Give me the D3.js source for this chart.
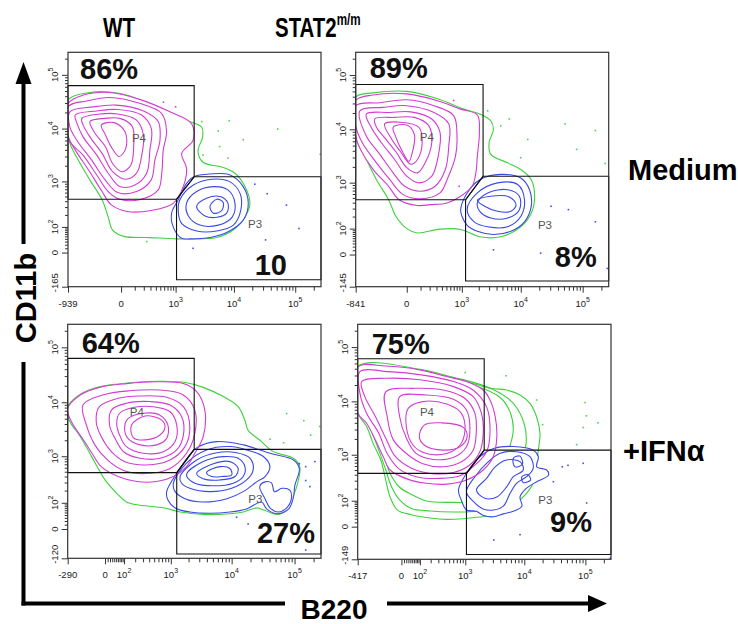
<!DOCTYPE html>
<html>
<head>
<meta charset="utf-8">
<title>CD11b / B220</title>
<script src="https://cdn.jsdelivr.net/npm/d3@7/dist/d3.min.js"></script>
<style>
  body { margin: 0; background: #fff; }
  text { font-family: "Liberation Sans", Arial, Helvetica, sans-serif; }
</style>
</head>
<body>
<div id="chart"></div>
<script>
// ---- labels ----
var columnTitles = ["WT", "STAT2"];
var columnSup = ["", "m/m"];
var rowTitles = ["Medium", "+IFN\u03b1"];
var yTitle = "CD11b";
var xTitle = "B220";

// ---- axes (biexponential display, top = 2^18) ----
var axisMax = 262144;
var xMins = [-939, -841, -290, -417];
var yMins = [-165, -145, -120, -149];
var xLabelTicks = [
  [-939, 0, 1e3, 1e4, 1e5],
  [-841, 0, 1e3, 1e4, 1e5],
  [-290, 0, 1e2, 1e3, 1e4, 1e5],
  [-417, 0, 1e2, 1e3, 1e4, 1e5]
];
var yLabelTicks = [
  [-165, 0, 1e2, 1e3, 1e4, 1e5],
  [-145, 0, 1e2, 1e3, 1e4, 1e5],
  [-120, 0, 1e2, 1e3, 1e4, 1e5],
  [-149, 0, 1e2, 1e3, 1e4, 1e5]
];

// ---- gate frequencies ----
var p4Percent = ["86%", "89%", "64%", "75%"];
var p3Percent = ["10", "8%", "27%", "9%"];

// ---- gates [B220, CD11b] ----
var p4Gates = [
  [[-939, 63000], [2150, 63000], [2150, 1230], [1040, 440], [-939, 440]],
  [[-841, 67000], [2370, 67000], [2370, 1330], [1170, 460], [-841, 460]],
  [[-290, 63000], [2480, 63000], [2480, 1350], [1265, 480], [-290, 480]],
  [[-417, 61000], [2140, 61000], [2140, 1225], [1050, 426], [-417, 426]]
];
var p3Gates = [
  [[1040, 440], [2150, 1230], [262144, 1230], [262144, -110], [1040, -110]],
  [[1170, 460], [2370, 1330], [262144, 1330], [262144, -103], [1170, -103]],
  [[1265, 480], [2480, 1350], [262144, 1350], [262144, -92], [1265, -92]],
  [[1050, 426], [2140, 1225], [262144, 1225], [262144, -112], [1050, -112]]
];
var p4LabelAt = [[75, 5600], [93, 6100], [146, 5600], [100, 5360]];
var p3LabelAt = [[17000, 95], [19000, 100], [18400, 100], [17000, 82]];

// ---- contour rings, outermost first [B220, CD11b] ----
// WT, medium
var tlMagenta = [
  [[-939,29000],[-460,42000],[-80,47000],[150,35000],[780,20500],[1950,12200],[2050,6000],[1290,3400],[1580,1780],[1380,790],[900,360],[290,250],[41,240],[-68,340],[-155,630],[-355,1660],[-680,3950],[-939,7400]],
  [[-939,25400],[-390,32700],[-80,38000],[150,29500],[530,19200],[670,8750],[575,3950],[535,1440],[450,680],[150,430],[-7,440],[-93,630],[-222,1330],[-470,3180],[-880,6000]],
  [[-870,20500],[-270,25400],[-32,27300],[196,21300],[450,13500],[490,6000],[380,2560],[310,1060],[117,630],[-20,600],[-120,1060],[-300,2560],[-630,6000],[-870,10900]],
  [[-680,17900],[-220,21300],[-20,22700],[172,17900],[315,10000],[290,3950],[240,1440],[102,850],[-7,790],[-93,1440],[-222,3180],[-470,7000],[-630,12600]],
  [[-500,15500],[-176,18700],[-20,18700],[117,14400],[196,7500],[172,3000],[117,1440],[29,1100],[-56,1540],[-155,3430],[-330,7000],[-470,11600]],
  [[-330,13500],[-120,15500],[-7,15500],[78,10900],[90,4600],[66,2050],[5,1540],[-56,2210],[-120,4600],[-245,8100]],
  [[-163,11600],[-44,12900],[24,8750],[29,4250],[-12,3000],[-68,4600],[-120,7700]]
];
var tlBlue = [
  [[840,220],[1120,430],[1580,915],[2110,1230],[4000,1390],[8500,1340],[14200,790],[17200,364],[14200,150],[8500,76],[4000,45],[1810,40],[1290,42],[900,100]],
  [[1120,240],[1200,430],[2080,850],[4270,1100],[8500,990],[12600,580],[13000,260],[9800,112],[5200,76],[2370,76],[1290,124]],
  [[1580,364],[2370,630],[4560,790],[7960,680],[10400,364],[9300,176],[5530,112],[2700,112],[1700,190]],
  [[2370,310],[3500,460],[5900,500],[7960,364],[7600,220],[5200,176],[3300,190]],
  [[4000,310],[5200,440],[6650,375],[6260,250],[4560,220]]
];
var tlGreen = [
  [[-939,34000],[-330,47000],[-80,48000],[66,40000],[350,26000],[900,18700],[1800,13500],[2900,10600],[3000,7000],[2500,3700],[3100,2300],[6300,1900],[10400,1440],[15200,790],[18300,360],[15200,180],[9700,81],[5200,45],[2400,40],[1040,40],[290,45],[17,50],[-56,81],[-93,180],[-155,430],[-330,1060],[-540,2200],[-870,5400],[-939,9400]]
];
var tlDots = [
  [2900,13500,"g"],[5500,9000,"g"],[8400,14000,"g"],[14200,6200,"g"],[52000,9800,"g"],[5800,4600,"g"],[8000,2800,"g"],[3050,3200,"g"],[240,30,"g"],[255000,3300,"g"],
  [22000,880,"b"],[35000,570,"b"],[72000,330,"b"],[115000,90,"b"],[33000,36,"b"],[2050,10,"b"],
  [580,31000,"m"],[1000,25400,"m"]
];

// STAT2 m/m, medium
var trMagenta = [
  [[-841,34000],[-370,43000],[0,45000],[305,34000],[950,23600],[1890,18400],[2050,8750],[1890,3180],[1780,1540],[1530,850],[950,540],[515,395],[206,364],[73,350],[-49,460],[-143,850],[-368,1780],[-680,4250],[-841,7500]],
  [[-841,27300],[-255,31000],[0,35000],[260,27300],[700,17900],[810,7500],[760,3180],[515,1140],[363,630],[98,480],[-24,590],[-130,1140],[-310,2380],[-630,5700],[-841,11600]],
  [[-700,21900],[-210,25400],[0,27300],[260,20500],[560,12600],[560,5000],[475,1780],[277,850],[98,680],[-12,850],[-98,1540],[-255,3430],[-520,7500]],
  [[-520,19200],[-130,20500],[24,21000],[228,15500],[363,8750],[330,3180],[228,1330],[85,990],[0,1330],[-85,2750],[-235,5700],[-410,10900]],
  [[-340,15500],[-85,16600],[49,16600],[189,11600],[228,5700],[146,2380],[73,1540],[0,1930],[-73,3800],[-190,7000],[-310,10900]],
  [[-190,12600],[-37,13500],[85,10900],[115,5700],[73,2750],[24,2240],[-37,3800],[-110,6500]],
  [[-98,10900],[0,12000],[49,8000],[37,4000],[12,2550],[-29,4000],[-78,7500]]
];
var trBlue = [
  [[950,285],[1250,630],[2080,1140],[4700,1440],[10000,1230],[13900,730],[14800,336],[11500,150],[6900,84],[3550,67],[1890,84],[1250,122],[1010,200]],
  [[1250,285],[1890,630],[4160,990],[8900,920],[11500,460],[10000,200],[6100,112],[2840,112],[1660,150]],
  [[1890,395],[2840,630],[6100,730],[9500,540],[9500,285],[6100,185],[3200,185],[2080,262]],
  [[1890,450],[3200,540],[6500,525],[8400,364],[6900,262],[4160,262],[2520,336]]
];
var trGreen = [
  [[-841,39000],[-370,47000],[0,50000],[305,37000],[1090,23600],[2080,19200],[3200,14400],[3550,10000],[3000,5700],[3200,3430],[6100,2380],[10000,1780],[14800,1140],[16800,540],[14800,238],[10000,112],[4700,56],[2080,56],[950,95],[360,97],[73,75],[0,100],[-73,200],[-143,460],[-310,1140],[-520,2750],[-780,5700],[-841,7400]]
];
var trDots = [
  [2840,21900,"g"],[4700,11600,"g"],[6500,15500,"g"],[13000,6500,"g"],[52000,12600,"g"],[80000,4250,"g"],[160000,9500,"g"],[230000,2330,"g"],[10000,2970,"g"],
  [31000,336,"b"],[59000,285,"b"],[160000,150,"b"],[3550,11,"b"],[21000,3,"b"],[250000,-40,"b"],
  [700,34000,"m"],[890,850,"m"]
];

// WT, +IFN-alpha
var blMagenta = [
  [[-290,7700],[-146,13600],[-23,18700],[118,21900],[555,23600],[1640,21900],[2720,15600],[3700,7200],[3480,2340],[2540,1140],[1850,630],[1110,400],[555,315],[218,315],[61,400],[-15,630],[-61,1140],[-118,2000],[-240,4400]],
  [[-124,8900],[-8,13600],[146,16200],[640,16700],[1640,13600],[2540,7200],[2540,2680],[1850,1140],[970,580],[350,460],[96,530],[9,850],[-45,1640],[-97,3800]],
  [[-23,8300],[61,11800],[258,13000],[845,12300],[1640,8300],[2100,3530],[1740,1520],[970,850],[350,680],[103,790],[26,1220],[-15,2340],[-38,4400]],
  [[26,7200],[118,9600],[410,10300],[970,8900],[1540,5400],[1640,2500],[1265,1320],[640,915],[258,915],[96,1220],[44,2170],[18,3800]],
  [[70,6300],[180,8000],[480,8300],[970,6700],[1265,3800],[1185,1890],[740,1220],[304,1140],[118,1520],[70,2500],[53,4100]],
  [[131,5000],[304,6300],[640,5800],[890,3800],[845,2170],[555,1640],[258,1640],[131,2170],[104,3320]],
  [[162,3800],[330,5600],[690,4700],[790,3460],[640,2500],[330,2030],[180,2250]]
];
var blBlue = [
  [[845,189],[1265,463],[2720,1440],[5740,1890],[15300,1640],[40700,1140],[96000,850],[119000,580],[101000,260],[96000,141],[81000,66],[52000,45],[36000,66],[30000,105],[17300,66],[9400,52],[4470,47],[2100,52],[1185,71],[890,118]],
  [[1110,290],[1850,740],[3950,1320],[9400,1530],[17300,1320],[32000,990],[40700,630],[34000,400],[25000,310],[15300,189],[8400,128],[3480,105],[1740,128],[1185,189]],
  [[1440,400],[2720,850],[5740,1170],[12000,1170],[19700,915],[22000,540],[17300,340],[10000,225],[4470,189],[2100,225],[1530,290]],
  [[1850,430],[3480,790],[7350,985],[12700,915],[16300,630],[15300,400],[10600,290],[5000,255],[2550,290]],
  [[2720,463],[5070,720],[9400,790],[12700,580],[11300,400],[6500,340],[3480,360]],
  [[3950,480],[6500,630],[9400,580],[10000,430],[6900,400],[4800,400]],
  [[28000,245],[34000,310],[43000,295],[48000,189],[63000,225],[84000,205],[89000,128],[75000,71],[55000,52],[40700,71],[34000,128]]
];
var blGreen = [
  [[-290,8300],[-146,14100],[-23,19200],[146,22700],[740,24100],[1850,22700],[3480,18700],[7350,12700],[12700,8300],[16200,4730],[18300,3050],[28000,2020],[46000,1225],[96000,915],[121000,630],[108000,245],[89000,118],[75000,59],[52000,42],[34000,59],[25000,71],[15300,52],[9400,45],[3480,42],[1450,52],[740,72],[258,85],[118,105],[53,173],[0,340],[-38,680],[-86,1320],[-146,2340],[-270,4730]]
];
var blDots = [
  [75000,6200,"g"],[140000,4600,"g"],[180000,2500,"g"],[250000,3600,"g"],[40700,2100,"g"],[67000,1800,"g"],
  [119000,720,"b"],[150000,630,"b"],[210000,790,"b"],[150000,330,"b"],[175000,245,"b"],[150000,-70,"b"],[18300,12,"b"],[12000,32,"b"]
];

// STAT2 m/m, +IFN-alpha
var brMagenta = [
  [[-417,42400],[-80,44700],[100,38000],[447,28700],[1050,23200],[2060,16200],[2690,10600],[3280,5250],[3500,2210],[3040,915],[2060,500],[1050,310],[447,253],[154,263],[29,320],[-53,500],[-98,915],[-166,1900],[-270,3930],[-410,6000]],
  [[-375,35300],[-62,35300],[124,30500],[605,23200],[1370,16200],[2350,7900],[2690,2970],[2350,1140],[1370,580],[800,380],[325,336],[82,360],[-7,515],[-71,1060],[-134,2560],[-270,6000],[-375,14000]],
  [[-346,23200],[-80,26600],[100,25000],[605,18700],[1380,12200],[1920,6000],[2060,2560],[1800,1140],[1200,630],[605,445],[195,426],[46,540],[-25,915],[-80,2060],[-166,5250],[-295,12200]],
  [[-80,15000],[64,17400],[380,16200],[990,11300],[1480,6000],[1560,2560],[1380,1225],[850,730],[380,580],[124,670],[29,990],[-35,1900],[-71,5250]],
  [[-7,12200],[154,13100],[605,10900],[1050,6900],[1210,2970],[1050,1420],[650,915],[230,810],[73,1060],[20,2080],[-7,5250]],
  [[29,7400],[124,9900],[447,8900],[850,6000],[990,2970],[800,1520],[447,1060],[154,1060],[55,1520],[20,3410]],
  [[96,2210],[138,3660],[350,4000],[920,3300],[1080,2210],[800,1420],[380,1225],[138,1520]]
];
var brBlue = [
  [[750,186],[1050,426],[1800,915],[3080,1320],[6580,1440],[14000,1225],[17000,915],[16000,580],[23300,500],[25000,393],[16000,285],[10900,205],[8500,126],[9100,69],[6580,46],[4500,36],[3080,26],[2040,31],[1570,46],[1050,51],[850,103]],
  [[1050,168],[1480,364],[2350,680],[3980,1070],[7450,1140],[12400,915],[14000,540],[10900,364],[7450,263],[5800,153],[4500,69],[3080,51],[2040,56],[1400,94]],
  [[1570,186],[2350,336],[3280,580],[5100,790],[8500,735],[9600,500],[6580,364],[5100,220],[3500,126],[2200,116]],
  [[6580,850],[8500,940],[9300,650],[7000,580]],
  [[9100,364],[11500,400],[12700,310],[9600,275]]
];
var brGreen = [
  [[-417,43600],[100,39000],[1050,23200],[2690,17400],[5120,16200],[8500,13100],[12400,9200],[15900,5200],[18100,2560],[17000,1225],[15600,580],[14000,263],[9600,126],[5100,51],[2800,31],[910,20],[447,18],[195,22],[46,33],[-16,51],[-53,126],[-80,305],[-117,790],[-190,1650],[-270,3410],[-410,6000]],
  [[-270,28700],[100,34000],[910,25200],[3160,16200],[6580,9200],[9900,3930],[10700,1650],[8500,680],[5800,189],[3500,69],[1570,46],[605,43],[195,47],[46,58],[-7,105],[-44,215],[-80,500],[-134,1225],[-215,2970],[-375,7900]],
  [[-80,24200],[275,26600],[1570,19000],[3980,11800],[5800,6400],[6580,2960],[5500,1225],[4100,580],[3140,189],[1800,96],[605,90],[154,98],[46,145],[-7,215],[-53,426],[-89,915],[-134,2210],[-185,5250]]
];
var brDots = [
  [1000,34000,"g"],[5000,29600,"g"],[16000,10600,"g"],[99000,9500,"g"],[104000,5400,"g"],[160000,4000,"g"],[72000,1560,"g"],[92000,3270,"g"],[20000,3700,"g"],
  [42000,580,"b"],[52000,620,"b"],[92000,680,"b"],[30000,285,"b"],[8500,-20,"b"],[3100,-38,"b"],[105000,86,"b"],[255000,-140,"b"]
];

var panels = [
  { magenta: tlMagenta, blue: tlBlue, green: tlGreen, dots: tlDots },
  { magenta: trMagenta, blue: trBlue, green: trGreen, dots: trDots },
  { magenta: blMagenta, blue: blBlue, green: blGreen, dots: blDots },
  { magenta: brMagenta, blue: brBlue, green: brGreen, dots: brDots }
];

// ---- layout ----
var layout = [
  { left: 68,    top: 52.3,  w: 253,   h: 234.4, cx: 150, cy: 50, lowX: false, p4: [12, 27],   p3: [34, 12] },
  { left: 355.7, top: 52.3,  w: 253,   h: 234.4, cx: 150, cy: 50, lowX: false, p4: [14, 26],   p3: [12, 20] },
  { left: 67.7,  top: 324.3, w: 253.3, h: 234,   cx: 100, cy: 50, lowX: true,  p4: [14, 29],   p3: [6, 15] },
  { left: 357.7, top: 324.3, w: 253.3, h: 235,   cx: 100, cy: 50, lowX: true,  p4: [14, 30],   p3: [19, 27] }
];
var colors = { magenta: "#d23cd2", blue: "#3a4ae6", green: "#3dd23d" };
var dotColors = { g: "#44dd44", b: "#4050ee", m: "#cc44cc" };

var svg = d3.select("#chart").append("svg")
  .attr("width", 738)
  .attr("height", 624);

function tickText(sel, v) {
  if (v <= 0) { sel.text(String(v)); return; }
  sel.text("10");
  sel.append("tspan").attr("dy", -5).attr("font-size", "7px").text(Math.round(Math.log10(v)));
}

var drawPanel = function (i) {
  var L = layout[i];
  var data = panels[i];
  var x = d3.scaleSymlog().constant(L.cx).domain([xMins[i], axisMax]).range([L.left, L.left + L.w]);
  var y = d3.scaleSymlog().constant(L.cy).domain([yMins[i], axisMax]).range([L.top + L.h, L.top]);

  var g = svg.append("g");
  g.append("clipPath").attr("id", "clip" + i)
    .append("rect")
    .attr("x", L.left).attr("y", L.top).attr("width", L.w).attr("height", L.h);

  var plot = g.append("g").attr("clip-path", "url(#clip" + i + ")");
  var ring = d3.line()
    .x(function (d) { return x(d[0]); })
    .y(function (d) { return y(d[1]); })
    .curve(d3.curveCatmullRomClosed.alpha(0.5));

  plot.selectAll(".green").data(data.green).enter().append("path")
    .attr("d", ring).attr("fill", "none").attr("stroke", colors.green).attr("stroke-width", 1.1);

  // the green (total) contours are hidden where the gated populations sit
  plot.append("path").datum(data.magenta[0]).attr("d", ring).attr("fill", "#fff");
  plot.append("path").datum(data.blue[0]).attr("d", ring).attr("fill", "#fff");

  plot.selectAll(".blue").data(data.blue).enter().append("path")
    .attr("d", ring).attr("fill", "none").attr("stroke", colors.blue).attr("stroke-width", 1.1);
  plot.selectAll(".magenta").data(data.magenta).enter().append("path")
    .attr("d", ring).attr("fill", "none").attr("stroke", colors.magenta).attr("stroke-width", 1.1);

  plot.selectAll(".dot").data(data.dots).enter().append("rect")
    .attr("x", function (d) { return x(d[0]) - 0.8; })
    .attr("y", function (d) { return y(d[1]) - 0.8; })
    .attr("width", 1.6).attr("height", 1.6)
    .attr("fill", function (d) { return dotColors[d[2]]; });

  // gates
  var gate = d3.line()
    .x(function (d) { return x(d[0]); })
    .y(function (d) { return y(d[1]); })
    .curve(d3.curveLinearClosed);
  g.selectAll(".gate").data([p4Gates[i], p3Gates[i]]).enter().append("path")
    .attr("d", gate).attr("fill", "none").attr("stroke", "#111").attr("stroke-width", 1.1);

  // frame
  g.append("rect")
    .attr("x", L.left).attr("y", L.top).attr("width", L.w).attr("height", L.h)
    .attr("fill", "none").attr("stroke", "#333").attr("stroke-width", 1.2);

  // axes
  var lowTicks = d3.range(10, 100, 10);
  var minorX = (L.lowX ? lowTicks.concat(d3.range(200, 1000, 100)) : d3.range(100, 1000, 100))
    .concat(d3.range(2000, 10000, 1000), d3.range(2e4, 1e5, 1e4), [2e5]);
  var minorY = lowTicks.concat(d3.range(200, 1000, 100), d3.range(2000, 10000, 1000), d3.range(2e4, 1e5, 1e4), [2e5]);

  var bottom = L.top + L.h;
  var style = function (a) {
    a.select(".domain").remove();
    a.selectAll("line").attr("stroke", "#333");
  };
  g.append("g").attr("transform", "translate(0," + bottom + ")")
    .call(d3.axisBottom(x).tickValues(minorX).tickSize(4).tickFormat("")).call(style);
  g.append("g").attr("transform", "translate(0," + bottom + ")")
    .call(d3.axisBottom(x).tickValues(xLabelTicks[i]).tickSize(6).tickFormat("")).call(style);
  g.append("g").attr("transform", "translate(" + L.left + ",0)")
    .call(d3.axisLeft(y).tickValues(minorY).tickSize(3).tickFormat("")).call(style);
  g.append("g").attr("transform", "translate(" + L.left + ",0)")
    .call(d3.axisLeft(y).tickValues(yLabelTicks[i]).tickSize(6).tickFormat("")).call(style);

  xLabelTicks[i].forEach(function (v) {
    g.append("text")
      .attr("x", x(v)).attr("y", bottom + 20)
      .attr("text-anchor", "middle").attr("font-size", "9.5px").attr("fill", "#222")
      .call(tickText, v);
  });
  yLabelTicks[i].forEach(function (v) {
    var yy = v === yMins[i] ? y(v) - 4 : y(v);
    g.append("text")
      .attr("transform", "translate(" + (L.left - 10) + "," + yy + ") rotate(-90)")
      .attr("text-anchor", "middle").attr("font-size", "9.5px").attr("fill", "#222")
      .call(tickText, v);
  });

  // gate labels and frequencies
  g.append("text").attr("x", x(p4LabelAt[i][0])).attr("y", y(p4LabelAt[i][1]))
    .attr("font-size", "11.5px").attr("fill", "#555").text("P4");
  g.append("text").attr("x", x(p3LabelAt[i][0])).attr("y", y(p3LabelAt[i][1]))
    .attr("font-size", "11.5px").attr("fill", "#555").text("P3");

  g.append("text").attr("x", L.left + L.p4[0]).attr("y", L.top + L.p4[1])
    .attr("font-size", "29px").attr("font-weight", "bold").attr("fill", "#111").text(p4Percent[i]);
  g.append("text").attr("x", L.left + L.w - L.p3[0]).attr("y", bottom - L.p3[1])
    .attr("text-anchor", "end")
    .attr("font-size", "29px").attr("font-weight", "bold").attr("fill", "#111").text(p3Percent[i]);
};

for (var i = 0; i < 4; i++) { drawPanel(i); }

// column titles (condensed bold)
svg.append("text").attr("transform", "translate(119,36.7) scale(0.74,1)")
  .attr("text-anchor", "middle")
  .attr("font-size", "28px").attr("font-weight", "bold").text(columnTitles[0]);
var stat = svg.append("text").attr("transform", "translate(275,37.3) scale(0.73,1)")
  .attr("font-size", "28px").attr("font-weight", "bold").text(columnTitles[1]);
stat.append("tspan").attr("dy", -12.5).attr("font-size", "16px").text(columnSup[1]);

// row titles
svg.append("text").attr("x", 628).attr("y", 180)
  .attr("font-size", "29px").attr("font-weight", "bold").text(rowTitles[0]);
svg.append("text").attr("x", 623).attr("y", 461)
  .attr("font-size", "29px").attr("font-weight", "bold").text(rowTitles[1]);

// axis arrows and titles
var arrows = svg.append("g").attr("stroke", "#000").attr("stroke-width", 4).attr("fill", "none");
arrows.append("path").attr("d", "M23.5,605.5V362M23.5,244V80");
arrows.append("path").attr("d", "M21.5,603.5H285M387,603.5H591");
svg.append("path").attr("d", "M23.5,62L15.5,84L31.5,84Z").attr("fill", "#000");
svg.append("path").attr("d", "M607,603.5L588,595L588,612Z").attr("fill", "#000");

svg.append("text").attr("transform", "translate(36,298) rotate(-90)")
  .attr("text-anchor", "middle").attr("font-size", "29px").attr("font-weight", "bold").text(yTitle);
svg.append("text").attr("x", 334).attr("y", 619)
  .attr("text-anchor", "middle").attr("font-size", "28px").attr("font-weight", "bold").text(xTitle);
</script>
</body>
</html>
